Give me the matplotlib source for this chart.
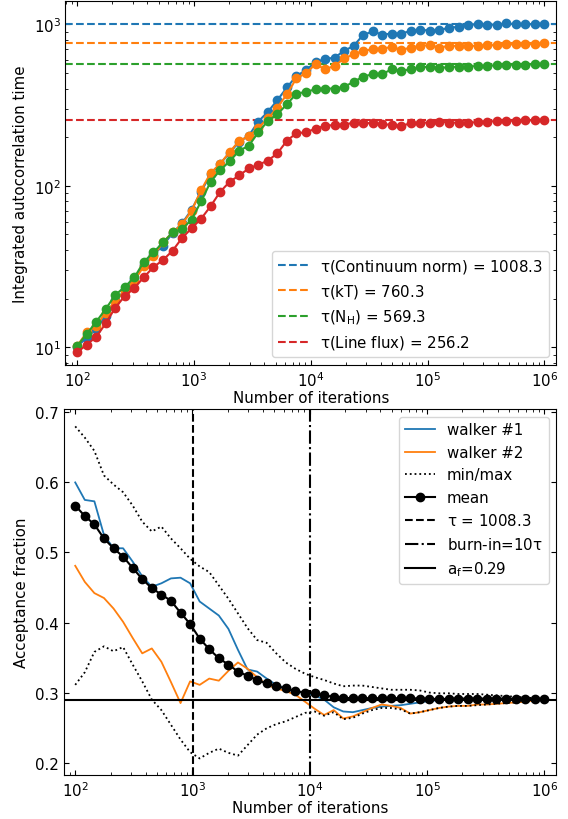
import numpy as np
import matplotlib
matplotlib.use("Agg")
import matplotlib.pyplot as plt

# ---------------- data ----------------
n_iter = np.logspace(2, 6, 50)

tau_names = [r"$\tau$(Continuum norm) = 1008.3", r"$\tau$(kT) = 760.3",
             r"$\tau$(N$_{\rm H}$) = 569.3", r"$\tau$(Line flux) = 256.2"]
tau_final = [1008.3, 760.3, 569.3, 256.2]

tau_norm = [10.1, 11.5, 13.0, 15.7, 19.5, 22.5, 26.5, 32.5, 37.5, 42.6,
            51.0, 58.5, 71.1, 92.0, 118, 137, 160, 188, 204, 250,
            287, 339, 406, 479, 519, 584, 608, 622, 684, 735,
            859, 902, 863, 875, 875, 910, 923, 914, 918, 953,
            963, 991, 1000, 996, 991, 1012, 1000, 1000, 1002, 1008.3]
tau_kT = [10.2, 12.4, 13.6, 16.4, 19.4, 22.4, 25.8, 32.0, 36.9, 44.6,
          51.4, 57.9, 70.0, 94.0, 120, 137, 162, 190, 202, 229,
          261, 305, 369, 463, 498, 566, 527, 552, 614, 652,
          684, 700, 706, 724, 694, 717, 735, 742, 717, 735,
          735, 735, 735, 742, 742, 752, 750, 752, 755, 760.3]
tau_NH = [10.2, 12.1, 14.4, 17.3, 21.1, 23.7, 27.1, 33.9, 38.7, 44.6,
          51.4, 53.9, 61.8, 80.0, 106, 125, 142, 165, 177, 214,
          252, 277, 320, 372, 381, 396, 400, 400, 410, 440,
          474, 491, 491, 527, 514, 527, 540, 547, 534, 545,
          545, 547, 552, 552, 557, 561, 562, 563, 565, 569.3]
tau_line = [9.31, 10.4, 11.6, 14.1, 17.6, 20.8, 23.3, 27.2, 31.4, 34.7,
            39.6, 47.5, 54.6, 62.5, 74.8, 91.8, 106, 116, 128, 135,
            143, 159, 190, 212, 214, 226, 235, 238, 239, 246,
            246, 243, 241, 238, 235, 244, 246, 246, 250, 246,
            246, 246, 248, 250, 251, 252, 253, 254, 255, 256.2]

walker1 = [0.600, 0.575, 0.573, 0.525, 0.506, 0.506, 0.487, 0.466, 0.451, 0.456,
           0.463, 0.464, 0.456, 0.430, 0.420, 0.410, 0.391, 0.361, 0.333, 0.330,
           0.320, 0.311, 0.306, 0.302, 0.299, 0.296, 0.290, 0.279, 0.273, 0.272,
           0.275, 0.278, 0.280, 0.281, 0.282, 0.284, 0.286, 0.288, 0.289, 0.290,
           0.291, 0.291, 0.291, 0.291, 0.291, 0.291, 0.291, 0.291, 0.291, 0.291]
walker2 = [0.481, 0.458, 0.442, 0.435, 0.420, 0.401, 0.378, 0.356, 0.363, 0.344,
           0.315, 0.285, 0.316, 0.311, 0.320, 0.317, 0.331, 0.343, 0.334, 0.322,
           0.311, 0.306, 0.302, 0.297, 0.287, 0.277, 0.268, 0.275, 0.263, 0.266,
           0.272, 0.278, 0.283, 0.281, 0.278, 0.270, 0.272, 0.275, 0.278, 0.280,
           0.281, 0.281, 0.283, 0.283, 0.284, 0.285, 0.286, 0.287, 0.289, 0.290]
acc_max = [0.680, 0.664, 0.645, 0.610, 0.597, 0.586, 0.567, 0.544, 0.530, 0.537,
           0.520, 0.506, 0.491, 0.480, 0.472, 0.453, 0.434, 0.413, 0.392, 0.375,
           0.371, 0.356, 0.343, 0.334, 0.327, 0.322, 0.318, 0.313, 0.309, 0.310,
           0.310, 0.308, 0.306, 0.304, 0.304, 0.304, 0.303, 0.300, 0.299, 0.299,
           0.298, 0.298, 0.298, 0.297, 0.296, 0.295, 0.294, 0.293, 0.292, 0.291]
acc_min = [0.311, 0.329, 0.358, 0.366, 0.359, 0.365, 0.340, 0.316, 0.290, 0.275,
           0.254, 0.233, 0.215, 0.206, 0.214, 0.220, 0.214, 0.210, 0.225, 0.240,
           0.249, 0.255, 0.259, 0.265, 0.271, 0.273, 0.267, 0.272, 0.262, 0.264,
           0.270, 0.275, 0.278, 0.278, 0.276, 0.270, 0.272, 0.275, 0.278, 0.280,
           0.281, 0.281, 0.282, 0.283, 0.284, 0.285, 0.286, 0.287, 0.288, 0.290]
acc_mean = [0.567, 0.552, 0.540, 0.520, 0.506, 0.494, 0.478, 0.462, 0.449, 0.440,
            0.431, 0.414, 0.398, 0.377, 0.362, 0.349, 0.340, 0.330, 0.324, 0.318,
            0.313, 0.309, 0.306, 0.302, 0.300, 0.299, 0.296, 0.294, 0.2925, 0.292,
            0.292, 0.292, 0.292, 0.292, 0.292, 0.292, 0.2915, 0.291, 0.291, 0.291,
            0.2915, 0.2915, 0.2915, 0.2915, 0.2915, 0.2915, 0.291, 0.291, 0.291, 0.2905]

tau_max = 1008.3
burn_in = 10 * tau_max
a_f = 0.29

# ---------------- figure ----------------
plt.rcParams['font.size'] = 10.8
plt.rcParams['mathtext.default'] = 'regular'

fig = plt.figure(figsize=(5.68, 8.2), dpi=100)
ax1 = fig.add_axes([0.1153, 0.5537, 0.8636, 0.4439])
ax2 = fig.add_axes([0.1118, 0.0537, 0.8671, 0.4463])

series = [tau_norm, tau_kT, tau_NH, tau_line]
for k, (name, tf) in enumerate(zip(tau_names, tau_final)):
    ax1.axhline(tf, ls='--', color=f"C{k}", lw=1.5, label=name)
for k, vals in enumerate(series):
    ax1.plot(n_iter, vals, 'o-', color=f"C{k}", ms=6, lw=1.5)
ax1.set_xscale('log')
ax1.set_yscale('log')
ax1.set_xlim(10**1.9, 10**6.1)
ax1.set_ylim(10**0.891, 10**3.144)
ax1.set_xlabel("Number of iterations", labelpad=1)
ax1.set_ylabel("Integrated autocorrelation time")
ax1.legend(loc='lower right', handlelength=2.0)

ax2.plot(n_iter, walker1, '-', color='C0', lw=1.3, label='walker #1')
ax2.plot(n_iter, walker2, '-', color='C1', lw=1.3, label='walker #2')
ax2.plot(n_iter, acc_min, ':', color='k', lw=1.3, label='min/max')
ax2.plot(n_iter, acc_max, ':', color='k', lw=1.3)
ax2.plot(n_iter, acc_mean, 'o-', color='k', ms=6, lw=1.5, label='mean')
ax2.axvline(tau_max, ls='--', color='k', lw=1.5, label=r"$\tau$ = 1008.3")
ax2.axvline(burn_in, ls='-.', color='k', lw=1.5, label=r"burn-in=10$\tau$")
ax2.axhline(a_f, ls='-', color='k', lw=1.5, label=r"a$_{\rm f}$=0.29")
ax2.set_xscale('log')
ax2.set_xlim(10**1.9, 10**6.1)
ax2.set_ylim(0.1824, 0.7048)
ax2.set_xlabel("Number of iterations", labelpad=1)
ax2.set_ylabel("Acceptance fraction")
ax2.legend(loc='upper right', handlelength=2.0)

for ax in (ax1, ax2):
    ax.tick_params(which='both', direction='in', top=True, right=True)

fig.savefig("out.png", dpi=100)
